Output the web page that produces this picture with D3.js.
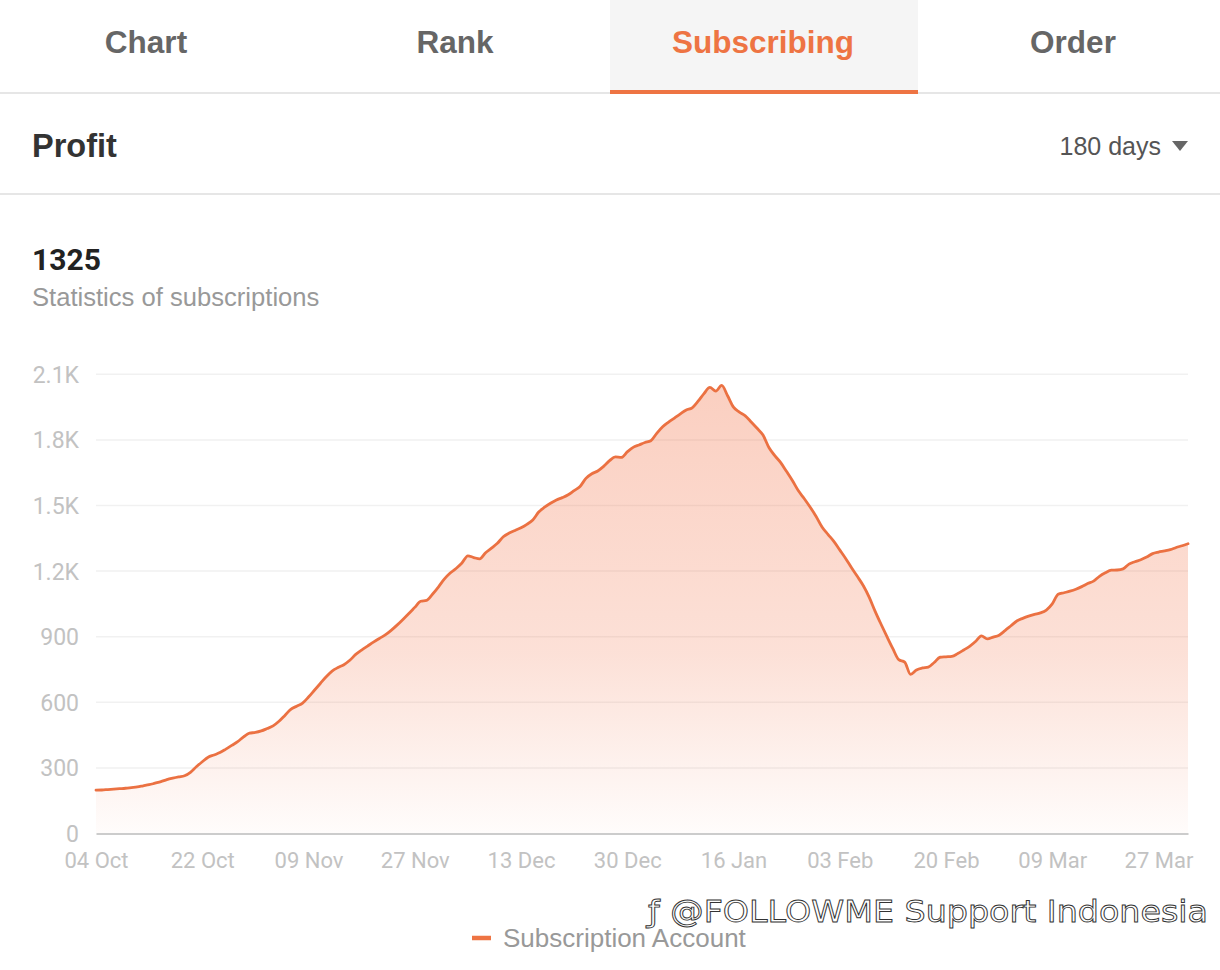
<!DOCTYPE html>
<html>
<head>
<meta charset="utf-8">
<script src="https://cdn.jsdelivr.net/npm/d3@7"></script>
<style>
  html, body { margin: 0; padding: 0; background: #fff; }
  svg { display: block; }
</style>
</head>
<body>
<svg id="chart" width="1220" height="970"></svg>
<script>
// ---------- data ----------
const tabs = ["Chart", "Rank", "Subscribing", "Order"];
const activeTab = "Subscribing";
const sectionTitle = "Profit";
const periodLabel = "180 days";
const totalValue = "1325";
const subtitle = "Statistics of subscriptions";
const seriesName = "Subscription Account";
const watermark = "ƒ @FOLLOWME Support Indonesia";

const xTickLabels = ["04 Oct", "22 Oct", "09 Nov", "27 Nov", "13 Dec", "30 Dec", "16 Jan", "03 Feb", "20 Feb", "09 Mar", "27 Mar"];
const xTickEvery = 18;
const yTicks = [0, 300, 600, 900, 1200, 1500, 1800, 2100];

const values = [
  198, 199, 201, 203, 205, 207, 210, 213, 218, 223,
  230, 237, 246, 253, 259, 264, 280, 305, 328, 349,
  359, 370, 386, 403, 420, 442, 459, 462, 469, 480,
  492, 513, 540, 568, 582, 596, 624, 655, 686, 717,
  743, 759, 772, 792, 819, 839, 857, 875, 892, 908,
  929, 953, 979, 1006, 1034, 1062, 1066, 1094, 1127, 1163,
  1191, 1212, 1237, 1270, 1262, 1256, 1284, 1305, 1327, 1357,
  1374, 1386, 1398, 1414, 1434, 1470, 1492, 1510, 1525, 1536,
  1549, 1568, 1587, 1624, 1645, 1658, 1679, 1705, 1722, 1720,
  1745, 1766, 1777, 1788, 1796, 1830, 1860, 1881, 1900, 1919,
  1937, 1947, 1977, 2012, 2040, 2023, 2049, 2002, 1950, 1927,
  1910, 1882, 1853, 1822, 1765, 1728, 1696, 1655, 1613, 1567,
  1531, 1492, 1450, 1402, 1368, 1336, 1297, 1258, 1215, 1175,
  1133, 1080, 1016, 957, 900, 845, 795, 784, 728, 748,
  757, 761, 782, 806, 808, 810, 823, 839, 856, 878,
  904, 890, 898, 907, 928, 950, 972, 984, 994, 1002,
  1009, 1022, 1050, 1094, 1101, 1108, 1117, 1129, 1143, 1154,
  1176, 1192, 1204, 1205, 1210, 1232, 1243, 1252, 1264, 1280,
  1287, 1292, 1298, 1308, 1316, 1325
];

// ---------- layout ----------
const svg = d3.select("#chart");
const W = 1220;
const orange = "#ee7443";

// tabs
const tabCenters = [146, 455, 763, 1073];
svg.append("rect").attr("x", 610).attr("y", 0).attr("width", 308).attr("height", 91).attr("fill", "#f5f5f5");
svg.append("rect").attr("x", 0).attr("y", 92).attr("width", W).attr("height", 2).attr("fill", "#e6e6e6");
svg.append("rect").attr("x", 610).attr("y", 90).attr("width", 308).attr("height", 4).attr("fill", orange);
svg.selectAll("text.tab").data(tabs).join("text")
  .attr("class", "tab")
  .attr("x", (d, i) => tabCenters[i])
  .attr("y", 53)
  .attr("text-anchor", "middle")
  .attr("font-family", "Liberation Sans, Arial, sans-serif")
  .attr("font-weight", "bold")
  .attr("font-size", 31.5)
  .attr("fill", d => d === activeTab ? orange : "#666")
  .text(d => d);

// Profit row
svg.append("text").attr("x", 32).attr("y", 157)
  .attr("font-family", "Liberation Sans, Arial, sans-serif").attr("font-weight", "bold")
  .attr("font-size", 32.5).attr("fill", "#333").text(sectionTitle);
svg.append("text").attr("x", 1161).attr("y", 155).attr("text-anchor", "end")
  .attr("font-family", "Liberation Sans, Arial, sans-serif")
  .attr("font-size", 25).attr("fill", "#555").text(periodLabel);
svg.append("path").attr("d", "M1172,141 L1188,141 L1180,151 Z").attr("fill", "#666");
svg.append("rect").attr("x", 0).attr("y", 193).attr("width", W).attr("height", 2).attr("fill", "#e6e6e6");

// headline
svg.append("text").attr("x", 32).attr("y", 270)
  .attr("font-family", "Roboto, sans-serif").attr("font-weight", "bold")
  .attr("font-size", 30).attr("fill", "#222").text(totalValue);
svg.append("text").attr("x", 32).attr("y", 306)
  .attr("font-family", "Liberation Sans, Arial, sans-serif")
  .attr("font-size", 25.6).attr("fill", "#999").text(subtitle);

// ---------- chart ----------
const x0 = 96, x1 = 1188, yBottom = 833.5, yTop = 374.3;
const x = d3.scaleLinear().domain([0, values.length - 1]).range([x0, x1]);
const y = d3.scaleLinear().domain([0, 2100]).range([yBottom, yTop]);

// grid
svg.append("g").selectAll("line").data(yTicks.filter(d => d > 0)).join("line")
  .attr("x1", x0).attr("x2", x1)
  .attr("y1", d => y(d)).attr("y2", d => y(d))
  .attr("stroke", "#f1f1f1").attr("stroke-width", 1.5);

// y labels
const axisFont = "Roboto, sans-serif";
const fmtY = d => d >= 1000 ? (d / 1000).toFixed(1) + "K" : String(d);
const yAxis = d3.axisLeft(y).tickValues(yTicks).tickFormat(fmtY).tickSize(0).tickPadding(0);
const gy = svg.append("g").attr("transform", "translate(79,0)").call(yAxis);
gy.select(".domain").remove();
gy.selectAll("text").attr("font-family", axisFont).attr("font-size", 23).attr("fill", "#c2c2c2").attr("dy", "0.35em");

// gradient
const defs = svg.append("defs");
const grad = defs.append("linearGradient").attr("id", "areaGrad")
  .attr("gradientUnits", "userSpaceOnUse")
  .attr("x1", 0).attr("x2", 0).attr("y1", y(d3.max(values))).attr("y2", yBottom);
grad.append("stop").attr("offset", "0%").attr("stop-color", "rgb(242,110,66)").attr("stop-opacity", 0.33);
grad.append("stop").attr("offset", "60%").attr("stop-color", "rgb(242,110,66)").attr("stop-opacity", 0.21);
grad.append("stop").attr("offset", "100%").attr("stop-color", "rgb(242,110,66)").attr("stop-opacity", 0.02);

const area = d3.area().x((d, i) => x(i)).y0(yBottom).y1(d => y(d)).curve(d3.curveMonotoneX);
const line = d3.line().x((d, i) => x(i)).y(d => y(d)).curve(d3.curveMonotoneX);

svg.append("path").datum(values).attr("d", area).attr("fill", "url(#areaGrad)");

// x axis
const xTickIdx = xTickLabels.map((d, i) => i * xTickEvery);
const xAxis = d3.axisBottom(x).tickValues(xTickIdx).tickFormat((d, i) => xTickLabels[i]).tickSize(0).tickPadding(0);
const gx = svg.append("g").attr("transform", `translate(0,${yBottom})`).call(xAxis);
gx.select(".domain").attr("stroke", "#cccccc").attr("stroke-width", 2);
gx.selectAll("text").attr("font-family", axisFont).attr("font-size", 22).attr("fill", "#c2c2c2").attr("dy", "1.55em");

svg.append("path").datum(values).attr("d", line)
  .attr("fill", "none").attr("stroke", "#eb7142").attr("stroke-width", 2.8)
  .attr("stroke-linejoin", "round").attr("stroke-linecap", "round");

// legend
svg.append("line").attr("x1", 472).attr("x2", 491).attr("y1", 938).attr("y2", 938)
  .attr("stroke", orange).attr("stroke-width", 4.5);
svg.append("text").attr("x", 503).attr("y", 947)
  .attr("font-family", "Liberation Sans, Arial, sans-serif")
  .attr("font-size", 26).attr("fill", "#999").text(seriesName);

// watermark (single outlined text)
svg.append("text").attr("x", 648).attr("y", 922)
  .attr("font-family", "DejaVu Sans, sans-serif").attr("font-size", 30)
  .attr("textLength", 560).attr("lengthAdjust", "spacingAndGlyphs")
  .attr("fill", "#fff").attr("stroke", "#333").attr("stroke-width", 0.9)
  .text(watermark);
</script>
</body>
</html>
